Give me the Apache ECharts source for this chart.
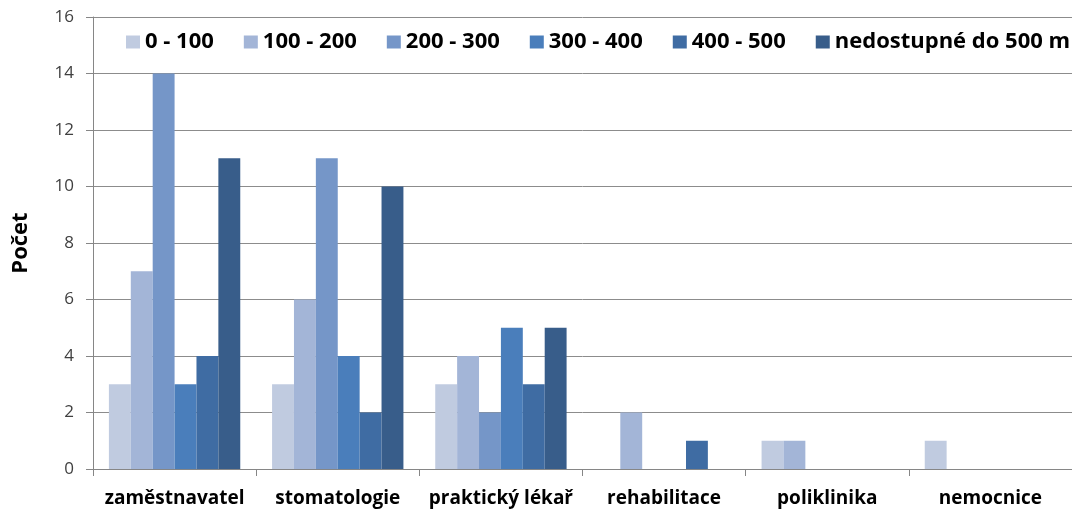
<!DOCTYPE html>
<html>
<head>
<meta charset="utf-8">
<script src="https://cdn.jsdelivr.net/npm/echarts@6/dist/echarts.min.js"></script>
<style>
html,body{margin:0;padding:0;background:#fff;}
#chart{width:1072px;height:514px;}
</style>
</head>
<body>
<div id="chart"></div>
<script>
// Facilities by category and walking distance band
const categories = ['zaměstnavatel', 'stomatologie', 'praktický lékař', 'rehabilitace', 'poliklinika', 'nemocnice'];
const seriesNames = ['0 - 100', '100 - 200', '200 - 300', '300 - 400', '400 - 500', 'nedostupné do 500 m'];
const d0_100   = [3, 3, 3, 0, 1, 1];
const d100_200 = [7, 6, 4, 2, 1, 0];
const d200_300 = [14, 11, 2, 0, 0, 0];
const d300_400 = [3, 4, 5, 0, 0, 0];
const d400_500 = [4, 2, 3, 1, 0, 0];
const dNone    = [11, 10, 5, 0, 0, 0];
const yTicks = [0, 2, 4, 6, 8, 10, 12, 14, 16];

const values = [d0_100, d100_200, d200_300, d300_400, d400_500, dNone];
const colors = ['#c0cbe0', '#a3b5d7', '#7596c8', '#4a7ebb', '#3f6ca3', '#385d8a'];
const font = '"Open Sans", "Liberation Sans", sans-serif';

const chart = echarts.init(document.getElementById('chart'), null, {renderer: 'canvas'});
chart.setOption({
  animation: false,
  color: colors,
  legend: {
    top: 31,
    left: 126,
    width: 980,
    padding: 0,
    itemWidth: 14,
    itemHeight: 13,
    itemGap: 30,
    icon: 'rect',
    textStyle: {fontFamily: font, fontWeight: 'bold', fontSize: 22, color: '#000'},
    data: seriesNames
  },
  grid: {left: 93, top: 17, width: 984, height: 452, containLabel: false},
  xAxis: {
    type: 'category',
    data: categories,
    axisLine: {lineStyle: {color: '#868686', width: 1}},
    axisTick: {show: true, length: 7, lineStyle: {color: '#868686'}},
    axisLabel: {interval: 0, fontFamily: font, fontWeight: 'bold', fontSize: 19, color: '#000', margin: 20}
  },
  yAxis: {
    type: 'value',
    min: yTicks[0],
    max: yTicks[yTicks.length - 1],
    interval: 2,
    name: 'Počet',
    nameLocation: 'middle',
    nameGap: 61,
    nameTextStyle: {fontFamily: font, fontWeight: 'bold', fontSize: 22, color: '#000'},
    axisLine: {show: true, lineStyle: {color: '#868686'}},
    axisTick: {show: true, length: 7, lineStyle: {color: '#868686'}},
    axisLabel: {fontFamily: font, fontSize: 17, color: '#404040', margin: 19},
    splitLine: {lineStyle: {color: '#8c8c8c', width: 1}}
  },
  series: seriesNames.map((name, i) => ({
    name: name,
    type: 'bar',
    data: values[i],
    barGap: '0%',
    barCategoryGap: '19.5%',
    itemStyle: {color: colors[i]}
  }))
});
</script>
</body>
</html>
